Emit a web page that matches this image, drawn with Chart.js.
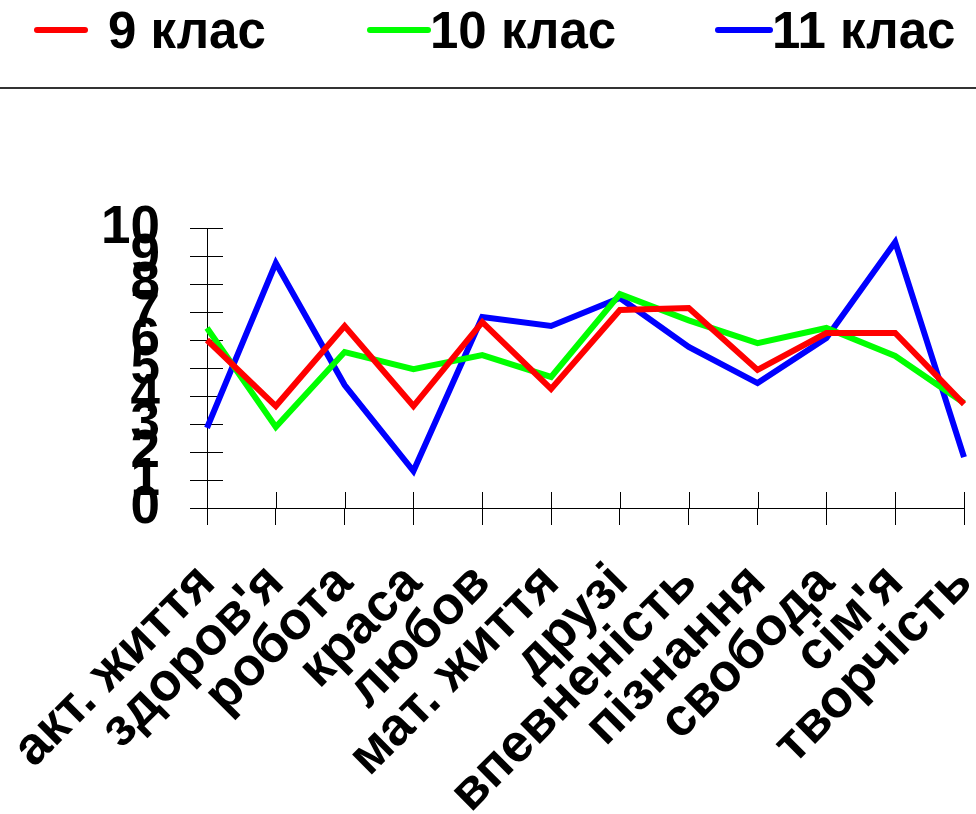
<!DOCTYPE html>
<html><head><meta charset="utf-8">
<script src="https://cdn.jsdelivr.net/npm/chart.js@4"></script>
<style>html,body{margin:0;padding:0;background:#fff}#wrap{width:976px;height:814px;position:relative}</style>
</head><body><div id="wrap"><canvas id="c" width="976" height="814"></canvas></div>
<script>
const categories = ["акт. життя","здоров'я","робота","краса","любов","мат. життя","друзі","впевненість","пізнання","свобода","сім'я","творчість"];
const seriesNames = ["9 клас","10 клас","11 клас"];
const grade9  = [6.0, 3.64, 6.5, 3.64, 6.64, 4.25, 7.07, 7.14, 4.93, 6.25, 6.25, 3.71];
const grade10 = [6.43, 2.89, 5.57, 4.96, 5.46, 4.68, 7.64, 6.7, 5.89, 6.43, 5.43, 3.75];
const grade11 = [2.86, 8.75, 4.39, 1.32, 6.82, 6.5, 7.5, 5.75, 4.46, 6.07, 9.5, 1.82];
const yTicks = [0,1,2,3,4,5,6,7,8,9,10];

const FONT = '"Liberation Sans", Arial, sans-serif';

const legendPlugin = {
  id: 'customLegend',
  afterDraw(chart) {
    const ctx = chart.ctx;
    const lines = [[37,85,108],[370,428,430],[718,770,772]];
    ctx.save();
    chart.data.datasets.forEach((ds, i) => {
      const [x1, x2, tx] = lines[i];
      ctx.strokeStyle = ds.borderColor;
      ctx.lineWidth = 6;
      ctx.lineCap = 'round';
      ctx.beginPath(); ctx.moveTo(x1, 30); ctx.lineTo(x2, 30); ctx.stroke();
      ctx.fillStyle = '#000';
      ctx.font = 'bold 51px ' + FONT;
      ctx.textBaseline = 'middle';
      ctx.textAlign = 'left';
      ctx.fillText(ds.label, tx, 34);
    });
    ctx.strokeStyle = '#333';
    ctx.lineWidth = 2;
    ctx.lineCap = 'butt';
    ctx.beginPath(); ctx.moveTo(0, 88); ctx.lineTo(976, 88); ctx.stroke();
    ctx.restore();
  }
};

const innerTicks = {
  id: 'innerTicks',
  beforeDatasetsDraw(chart) {
    const ctx = chart.ctx, xs = chart.scales.x, ys = chart.scales.y;
    ctx.save();
    ctx.strokeStyle = '#000';
    ctx.lineWidth = 1;
    ctx.beginPath();
    xs.ticks.forEach((t, i) => {
      const px = Math.round(xs.getPixelForTick(i)) + 0.5;
      ctx.moveTo(px, xs.top - 16); ctx.lineTo(px, xs.top);
    });
    ys.ticks.forEach((t, i) => {
      const py = Math.round(ys.getPixelForTick(i)) + 0.5;
      ctx.moveTo(ys.right, py); ctx.lineTo(ys.right + 16, py);
    });
    ctx.stroke();
    ctx.restore();
  }
};

const mk = (label, data, color) => ({
  label, data, borderColor: color, backgroundColor: color,
  borderWidth: 6, pointRadius: 0, tension: 0, fill: false,
  borderJoinStyle: 'miter', borderCapStyle: 'butt'
});

new Chart(document.getElementById('c'), {
  type: 'line',
  data: {
    labels: categories,
    datasets: [
      mk(seriesNames[0], grade9, '#ff0000'),
      mk(seriesNames[1], grade10, '#00ff00'),
      mk(seriesNames[2], grade11, '#0000ff')
    ]
  },
  options: {
    responsive: false,
    animation: false,
    devicePixelRatio: 1,
    layout: { padding: { top: 228, right: 12, left: 0, bottom: 0 } },
    plugins: { legend: { display: false }, tooltip: { enabled: false } },
    scales: {
      x: {
        offset: false,
        grid: { drawOnChartArea: false, drawTicks: true, tickLength: 17, color: '#000', lineWidth: 1 },
        border: { display: true, color: '#000', width: 1 },
        ticks: {
          color: '#000', autoSkip: false, maxRotation: 45, minRotation: 45, padding: 27,
          font: { family: FONT, size: 53, weight: 'bold' }
        },
        afterFit(scale) { scale.height = 306; scale.paddingRight = 0; scale.paddingLeft = 0; }
      },
      y: {
        min: 0, max: 10,
        afterBuildTicks(scale) { scale.ticks = yTicks.map(v => ({ value: v })); },
        grid: { drawOnChartArea: false, drawTicks: true, tickLength: 17, color: '#000', lineWidth: 1 },
        border: { display: true, color: '#000', width: 1 },
        ticks: {
          color: '#000', autoSkip: false, padding: 30,
          font: { family: FONT, size: 53, weight: 'bold' }
        },
        afterFit(scale) { scale.width = 207; }
      }
    }
  },
  plugins: [legendPlugin, innerTicks]
});
</script></body></html>
